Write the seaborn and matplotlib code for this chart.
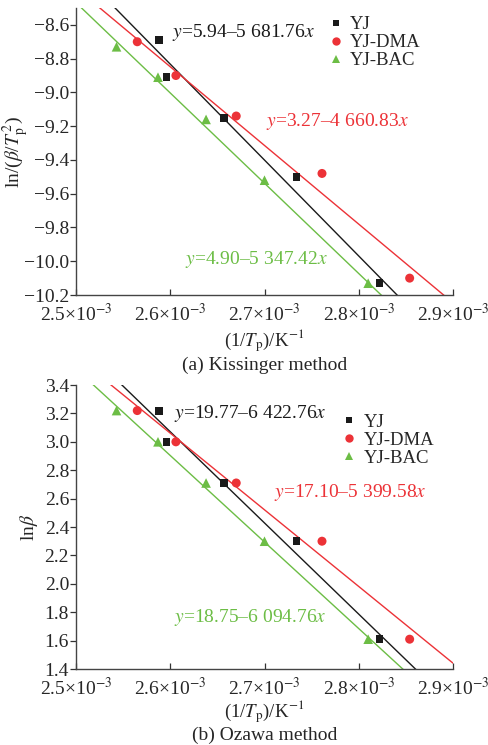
import matplotlib
matplotlib.use('Agg')
import matplotlib.pyplot as plt
from matplotlib.lines import Line2D
from matplotlib.ticker import FuncFormatter
import seaborn as sns
import pandas as pd
import numpy as np

# --- dados ---
samples = ['YJ', 'YJ-DMA', 'YJ-BAC']
inv_tp = {
    'YJ': [2.588e-3, 2.596e-3, 2.657e-3, 2.734e-3, 2.822e-3],
    'YJ-DMA': [2.565e-3, 2.606e-3, 2.670e-3, 2.761e-3, 2.854e-3],
    'YJ-BAC': [2.543e-3, 2.587e-3, 2.638e-3, 2.700e-3, 2.810e-3],
}
kissinger_y = {
    'YJ': [-8.69, -8.91, -9.15, -9.50, -10.13],
    'YJ-DMA': [-8.70, -8.90, -9.14, -9.48, -10.10],
    'YJ-BAC': [-8.73, -8.91, -9.16, -9.52, -10.13],
}
ozawa_y = {
    'YJ': [3.22, 3.00, 2.71, 2.30, 1.61],
    'YJ-DMA': [3.22, 3.00, 2.71, 2.30, 1.61],
    'YJ-BAC': [3.22, 3.00, 2.71, 2.30, 1.61],
}
kis_intercept = [5.94, 3.27, 4.90]
kis_slope = [-5681.76, -4660.83, -5347.42]
oz_intercept = [19.77, 17.10, 18.75]
oz_slope = [-6422.76, -5399.58, -6094.76]
kis_eq = ['5.94–5 681.76', '3.27–4 660.83', '4.90–5 347.42']
oz_eq = ['19.77–6 422.76', '17.10–5 399.58', '18.75–6 094.76']
x_ticks = [2.5e-3, 2.6e-3, 2.7e-3, 2.8e-3, 2.9e-3]

colors = {'YJ': '#1a1a1a', 'YJ-DMA': '#ec3237', 'YJ-BAC': '#6cbd45'}
markers = {'YJ': 's', 'YJ-DMA': 'o', 'YJ-BAC': '^'}
msize = {'YJ': 32, 'YJ-DMA': 42, 'YJ-BAC': 48}

FS = 14
sns.set_style('ticks')
plt.rcParams['font.family'] = ['Liberation Serif', 'DejaVu Serif']
plt.rcParams['mathtext.fontset'] = 'stix'
plt.rcParams['font.size'] = FS

fig = plt.figure(figsize=(4.89, 7.45), dpi=100)
ax_a = fig.add_axes([0.1554, 0.604, 0.771, 0.3853])
ax_b = fig.add_axes([0.1554, 0.102, 0.771, 0.3812])


def painel(ax, ydict, intercepts, slopes, eqs, ylim, yticks, ylabel, txt_pos, leg_pos, xlab_y, ylab_x):
    xs = np.linspace(x_ticks[0], x_ticks[-1], 100)
    for i, s in enumerate(samples):
        linha = pd.DataFrame({'x': xs, 'y': intercepts[i] + slopes[i] * xs})
        sns.lineplot(data=linha, x='x', y='y', ax=ax, color=colors[s], lw=1.0)
        pts = pd.DataFrame({'x': inv_tp[s], 'y': ydict[s]})
        sns.scatterplot(data=pts, x='x', y='y', ax=ax, color=colors[s], marker=markers[s],
                        s=msize[s], edgecolor='none', zorder=5)
        ax.text(txt_pos[i][0], txt_pos[i][1], '$y$=' + eqs[i] + '$x$', transform=ax.transAxes,
                color=colors[s], ha='left', va='center', fontsize=FS)
    ax.set_xlim(x_ticks[0], x_ticks[-1])
    ax.set_ylim(*ylim)
    ax.set_xticks(x_ticks)
    ax.set_yticks(yticks)
    ax.xaxis.set_major_formatter(FuncFormatter(lambda v, p: f'{v*1e3:.1f}×10$^{{-3}}$'))
    ax.yaxis.set_major_formatter(FuncFormatter(lambda v, p: f'{v:.1f}'.replace('-', '−')))
    ax.tick_params(axis='x', direction='in', length=4, width=0.9, color='#333333', pad=6)
    ax.tick_params(axis='y', direction='out', length=4, width=0.9, color='#333333', pad=1)
    ax.tick_params(labelsize=FS)
    sns.despine(ax=ax)
    for sp in ['left', 'bottom']:
        ax.spines[sp].set_color('#444444')
        ax.spines[sp].set_linewidth(1.0)
    ax.set_xlabel('(1/$T_{\\rm p}$)/K$^{-1}$', fontsize=13.5)
    ax.xaxis.set_label_coords(0.5, xlab_y)
    ax.set_ylabel(ylabel, fontsize=FS)
    ax.yaxis.set_label_coords(ylab_x, 0.5)
    handles = [Line2D([], [], ls='none', marker=markers[s], color=colors[s],
                      markersize=6 if s != 'YJ' else 5, markeredgewidth=0) for s in samples]
    ax.legend(handles, samples, loc='upper left', bbox_to_anchor=leg_pos, frameon=False,
              fontsize=13.5, handlelength=0.7, handletextpad=0.4, labelspacing=0.05,
              borderaxespad=0, borderpad=0)


painel(ax_a, kissinger_y, kis_intercept, kis_slope, kis_eq, (-10.2, -8.5),
       np.arange(-10.2, -8.55, 0.2), 'ln/($\\beta$/$T_{\\rm p}^{\\,2}$)',
       [(0.255, 0.913), (0.504, 0.603), (0.289, 0.125)], (0.672, 0.972), -0.113, -0.12)
painel(ax_b, ozawa_y, oz_intercept, oz_slope, oz_eq, (1.4, 3.4),
       np.arange(1.4, 3.45, 0.2), 'ln$\\beta$',
       [(0.260, 0.901), (0.525, 0.623), (0.260, 0.183)], (0.708, 0.90), -0.101, -0.095)

xc = (0.1554 + 0.771 / 2)
fig.text(xc, 1 - 365 / 745, '(a) Kissinger method', ha='center', va='center', fontsize=FS)
fig.text(xc, 1 - 735 / 745, '(b) Ozawa method', ha='center', va='center', fontsize=FS)

fig.savefig('out.png', dpi=100)
